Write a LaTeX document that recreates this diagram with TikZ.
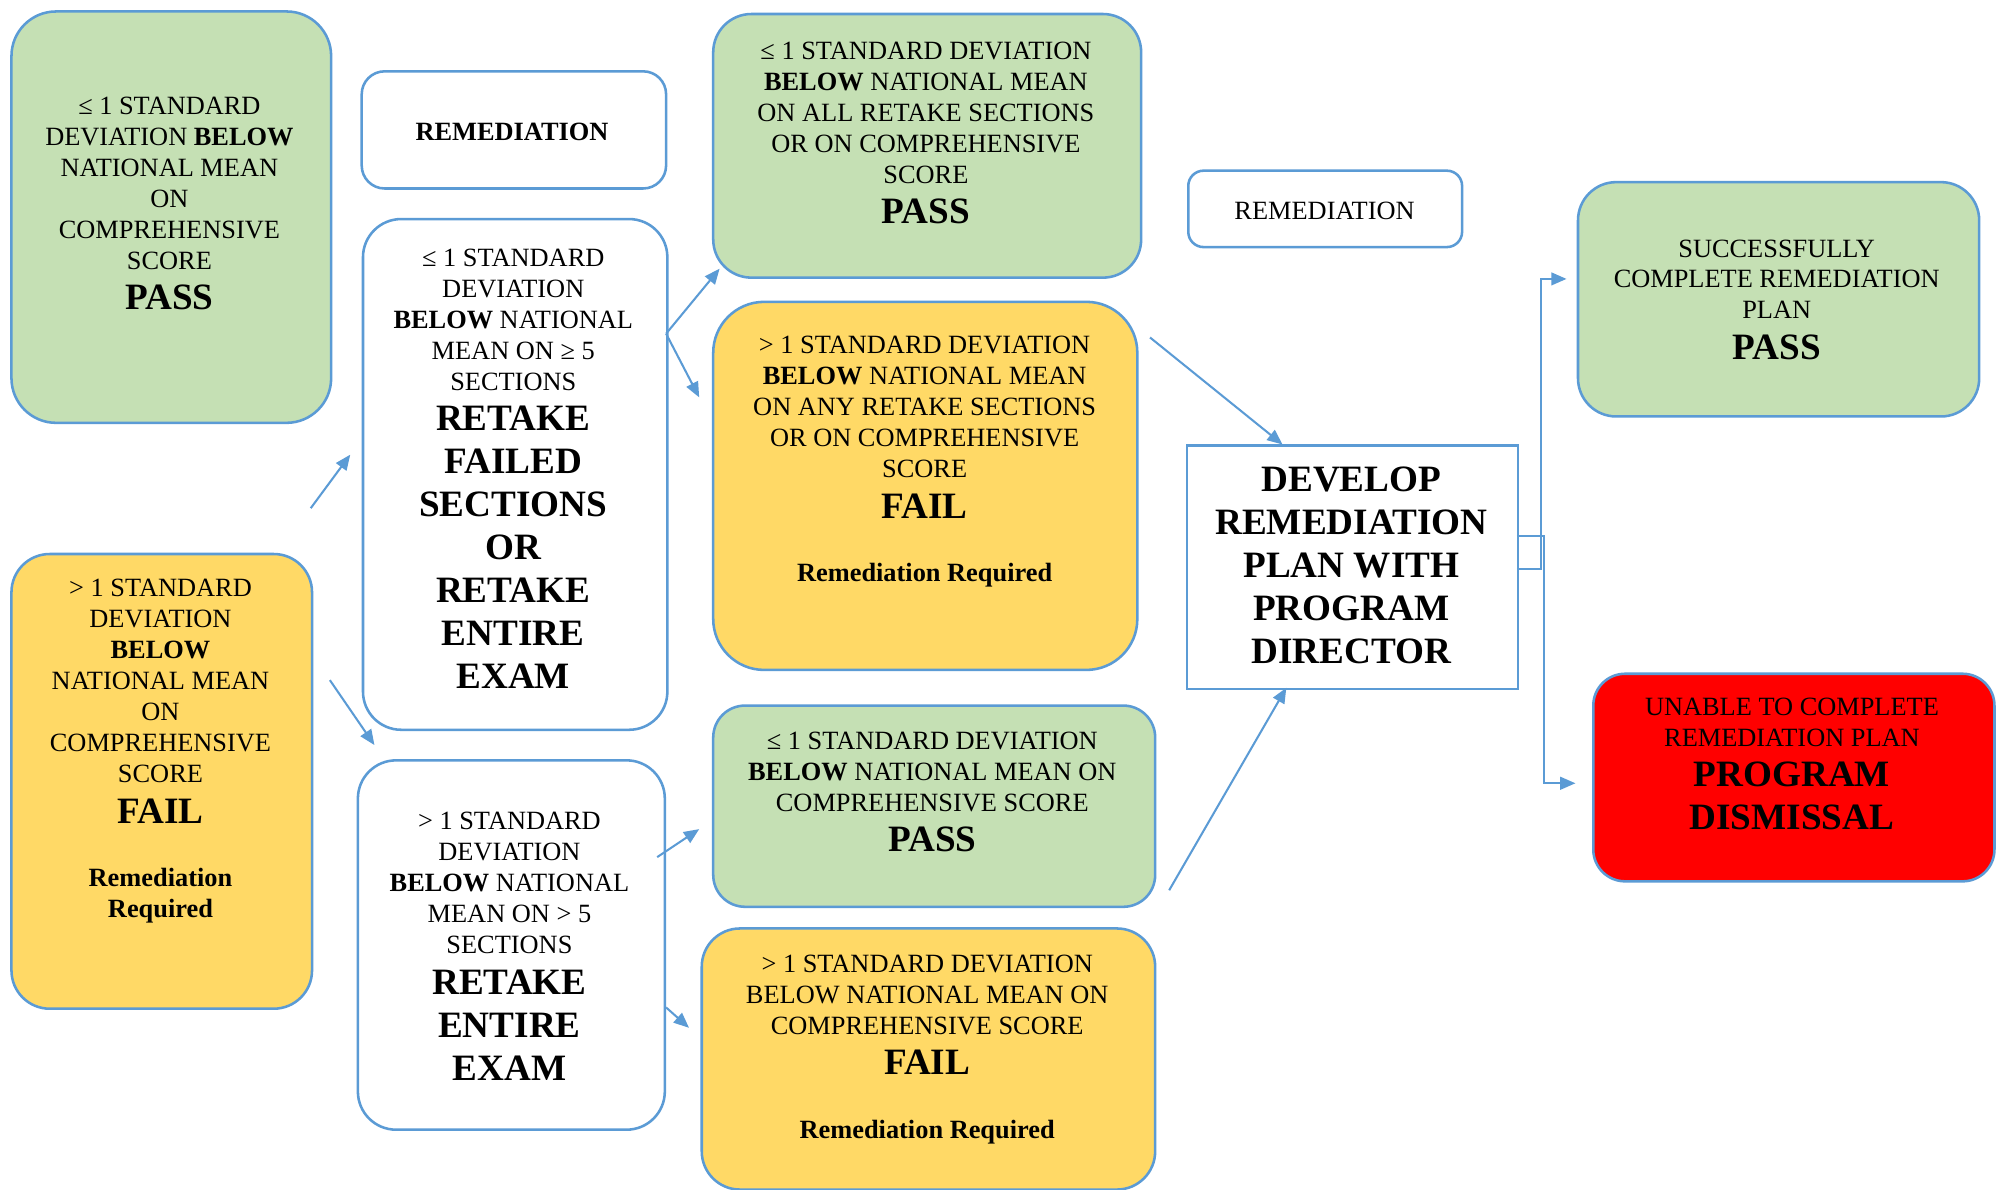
\documentclass[tikz,border=0pt]{standalone}
\usepackage{fontspec}
\setmainfont{Liberation Serif}
\usetikzlibrary{arrows.meta}
\definecolor{bd}{HTML}{5B9BD5}
\definecolor{gr}{HTML}{C5E0B4}
\definecolor{ye}{HTML}{FFD966}
\definecolor{rd}{HTML}{FF0000}
\newcommand{\BG}[1]{{\fontsize{29.2}{33.7}\selectfont\bfseries #1}}
\begin{document}
\begin{tikzpicture}[x=1pt,y=-1pt,
  box/.style={draw=bd, line width=2pt, inner sep=0pt, anchor=north west},
  txt/.style={align=center, inner sep=0pt, font=\fontsize{20.7}{24.3}\selectfont, yshift=-1.5pt},
  conn/.style={draw=bd, line width=1.6pt, -{Triangle[length=12pt,width=10pt]}}]
\useasboundingbox[fill=white] (0,0) rectangle (1568,934);

% boxes
\node[box, fill=gr, rounded corners=35pt, minimum width=251pt, minimum height=323pt] (g1) at (8,8) {};
\node[box, fill=white, rounded corners=18pt, minimum width=239pt, minimum height=92pt] (rem1) at (283,55) {};
\node[box, fill=white, rounded corners=30pt, minimum width=239pt, minimum height=401pt] (retake) at (284,171) {};
\node[box, fill=ye, rounded corners=30pt, minimum width=236pt, minimum height=357pt] (fail1) at (8,434) {};
\node[box, fill=white, rounded corners=30pt, minimum width=241pt, minimum height=290pt] (entire) at (280,596) {};
\node[box, fill=gr, rounded corners=30pt, minimum width=336pt, minimum height=207pt] (g2) at (559,10) {};
\node[box, fill=ye, rounded corners=40pt, minimum width=333pt, minimum height=289pt] (y2) at (559,236) {};
\node[box, fill=gr, rounded corners=25pt, minimum width=347pt, minimum height=158pt] (g3) at (559,553) {};
\node[box, fill=ye, rounded corners=30pt, minimum width=356pt, minimum height=205pt] (y3) at (550,728) {};
\node[box, fill=white, rounded corners=12pt, minimum width=215pt, minimum height=60pt] (rem2) at (932,133) {};
\node[box, fill=white, minimum width=260pt, minimum height=191pt] (dev) at (931,349) {};
\node[box, fill=gr, rounded corners=30pt, minimum width=315pt, minimum height=184pt] (g4) at (1238,142) {};
\node[box, fill=rd, rounded corners=25pt, minimum width=315pt, minimum height=163pt] (red) at (1250,528) {};

% texts
\node[txt] (g1t) at (133,158.4) {≤ 1 STANDARD\\DEVIATION \textbf{BELOW}\\NATIONAL MEAN\\ON\\COMPREHENSIVE\\SCORE\\[7.7pt]\BG{PASS}};
\node[txt] (rem1t) at (402,102) {\textbf{REMEDIATION}};
\node[txt] (retaket) at (403,366.4) {≤ 1 STANDARD\\DEVIATION\\\textbf{BELOW} NATIONAL\\MEAN ON ≥ 5\\SECTIONS\\[7.7pt]\BG{RETAKE}\\[9.4pt]\BG{FAILED}\\[9.4pt]\BG{SECTIONS}\\[9.4pt]\BG{OR}\\[9.4pt]\BG{RETAKE}\\[9.4pt]\BG{ENTIRE}\\[9.4pt]\BG{EXAM}};
\node[txt] (fail1t) at (126,588.5) {> 1 STANDARD\\DEVIATION\\\textbf{BELOW}\\NATIONAL MEAN\\ON\\COMPREHENSIVE\\SCORE\\[7.7pt]\BG{FAIL}\\[25.7pt]\textbf{Remediation}\\\textbf{Required}};
\node[txt] (entiret) at (400,741.4) {> 1 STANDARD\\DEVIATION\\\textbf{BELOW} NATIONAL\\MEAN ON > 5\\SECTIONS\\[7.7pt]\BG{RETAKE}\\[9.4pt]\BG{ENTIRE}\\[9.4pt]\BG{EXAM}};
\node[txt] (g2t) at (727,102.9) {≤ 1 STANDARD DEVIATION\\\textbf{BELOW} NATIONAL MEAN\\ON ALL RETAKE SECTIONS\\OR ON COMPREHENSIVE\\SCORE\\[7.7pt]\BG{PASS}};
\node[txt] (y2t) at (726,361) {> 1 STANDARD DEVIATION\\\textbf{BELOW} NATIONAL MEAN\\ON ANY RETAKE SECTIONS\\OR ON COMPREHENSIVE\\SCORE\\[7.7pt]\BG{FAIL}\\[25.7pt]\textbf{Remediation Required}};
\node[txt] (g3t) at (732,620.4) {≤ 1 STANDARD DEVIATION\\\textbf{BELOW} NATIONAL MEAN ON\\COMPREHENSIVE SCORE\\[7.7pt]\BG{PASS}};
\node[txt] (y3t) at (728,822.5) {> 1 STANDARD DEVIATION\\BELOW NATIONAL MEAN ON\\COMPREHENSIVE SCORE\\[7.7pt]\BG{FAIL}\\[25.7pt]\textbf{Remediation Required}};
\node[txt] (rem2t) at (1040,164) {REMEDIATION};
\node[txt] (devt) at (1061,442.5) {\BG{DEVELOP}\\[9.4pt]\BG{REMEDIATION}\\[9.4pt]\BG{PLAN WITH}\\[9.4pt]\BG{PROGRAM}\\[9.4pt]\BG{DIRECTOR}};
\node[txt] (g4t) at (1395,233.9) {SUCCESSFULLY\\COMPLETE REMEDIATION\\PLAN\\[7.7pt]\BG{PASS}};
\node[txt] (redt) at (1407,598.4) {UNABLE TO COMPLETE\\REMEDIATION PLAN\\[7.7pt]\BG{PROGRAM}\\[9.4pt]\BG{DISMISSAL}};

% connector ends
\coordinate (a1s) at (244,399);  \coordinate (a1e) at (275,357);
\coordinate (a2s) at (259,534);  \coordinate (a2e) at (294,585);
\coordinate (a3s) at (523,262);  \coordinate (a3e) at (565,211);
\coordinate (a4e) at (549,312);
\coordinate (a5s) at (516,673);  \coordinate (a5e) at (549,651);
\coordinate (a6s) at (523,791);  \coordinate (a6e) at (541,807);
\coordinate (a7s) at (903,265);  \coordinate (a7e) at (1007,349);
\coordinate (a8s) at (918,699);  \coordinate (a8e) at (1010,540);
\coordinate (b1s) at (1191,447); \coordinate (b1e) at (1230,219);
\coordinate (b2s) at (1191,421); \coordinate (b2e) at (1237,615);

\draw[conn] (a1s) -- (a1e);
\draw[conn] (a2s) -- (a2e);
\draw[conn] (a3s) -- (a3e);
\draw[conn] (a3s) -- (a4e);
\draw[conn] (a5s) -- (a5e);
\draw[conn] (a6s) -- (a6e);
\draw[conn] (a7s) -- (a7e);
\draw[conn] (a8s) -- (a8e);
\draw[conn] (b1s) -- (1210,447) -- (1210,219) -- (b1e);
\draw[conn] (b2s) -- (1212.5,421) -- (1212.5,615) -- (b2e);
\end{tikzpicture}
\end{document}
